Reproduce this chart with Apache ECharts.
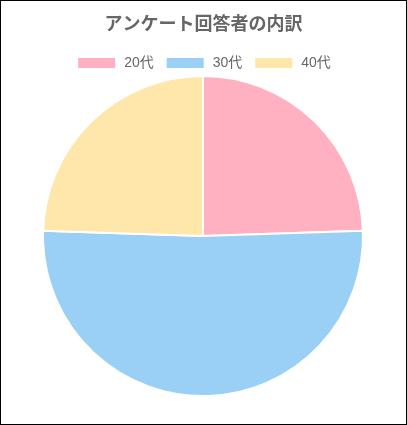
<!DOCTYPE html>
<html>
<head>
<meta charset="utf-8">
<script src="https://cdn.jsdelivr.net/npm/echarts@6/dist/echarts.min.js"></script>
<style>
	html, body { margin: 0; padding: 0; background: #fff; }
	#frame { width: 407px; height: 425px; box-sizing: border-box; border: 1px solid #000; }
	#chart { width: 100%; height: 100%; }
</style>
</head>
<body>
<div id="frame"><div id="chart"></div></div>
<script>
	// アンケート回答者の内訳
	var categories = ['20代', '30代', '40代'];
	var counts = [12, 25, 12];
	var colors = ['#FFB1C1', '#9AD0F5', '#FFE6AA'];

	var chart = echarts.init(document.getElementById('chart'));
	var option = {
		animation: false,
		title: {
			text: 'アンケート回答者の内訳',
			left: 'center',
			top: 8,
			textStyle: {
				color: '#666',
				fontSize: 18,
				fontWeight: 'bold',
				fontFamily: 'Noto Sans CJK JP'
			}
		},
		legend: {
			data: categories,
			top: 50,
			left: 'center',
			itemWidth: 39,
			itemHeight: 12,
			itemGap: 11,
			icon: 'rect',
			textStyle: {
				color: '#666',
				fontSize: 14,
				padding: [0, 0, 0, 3],
				fontFamily: "'Liberation Sans', 'Noto Sans CJK JP'"
			}
		},
		series: [
			{
				type: 'pie',
				center: [202, 235],
				radius: [0, 160],
				startAngle: 90,
				clockwise: true,
				label: { show: false },
				labelLine: { show: false },
				emphasis: { disabled: true },
				itemStyle: {
					borderColor: '#fff',
					borderWidth: 2
				},
				data: categories.map(function (name, i) {
					return { name: name, value: counts[i], itemStyle: { color: colors[i] } };
				})
			}
		]
	};
	chart.setOption(option);
</script>
</body>
</html>
